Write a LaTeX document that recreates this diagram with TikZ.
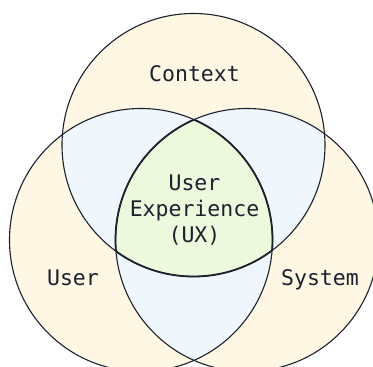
\documentclass[tikz,border=0pt]{standalone}
\usepackage{fontspec}
\newfontfamily\monofont{DejaVu Sans Mono}
\definecolor{cream}{HTML}{FEF7E3}
\definecolor{paleblue}{HTML}{EFF7FD}
\definecolor{palegreen}{HTML}{EEF8DC}
\definecolor{ink}{HTML}{1C2130}
\begin{document}
\begin{tikzpicture}[x=1pt,y=-1pt,
  lbl/.style={font=\monofont\fontsize{21.5}{24}\selectfont, text=ink, anchor=base, inner sep=0pt},
  outline/.style={draw=ink, line width=1.1pt},
  lensline/.style={draw=ink, line width=1.8pt}]
\useasboundingbox (0,0) rectangle (373,367);
\def\circT{(193.5,145) circle[radius=131.5pt]}
\def\circL{(141,240) circle[radius=131.5pt]}
\def\circR{(247,240) circle[radius=131.5pt]}
\begin{scope}
  \clip (0,0) rectangle (373,367);
  \fill[cream] \circT;
  \fill[cream] \circL;
  \fill[cream] \circR;
  \begin{scope}
    \clip \circT;
    \fill[paleblue] \circL;
    \fill[paleblue] \circR;
  \end{scope}
  \begin{scope}
    \clip \circL;
    \fill[paleblue] \circR;
  \end{scope}
  \begin{scope}
    \clip \circT; \clip \circL;
    \fill[palegreen] \circR;
  \end{scope}
  \path[outline] \circT;
  \path[outline] \circL;
  \path[outline] \circR;
  \begin{scope}
    \clip \circT; \clip \circL;
    \path[lensline] \circR;
  \end{scope}
  \begin{scope}
    \clip \circT; \clip \circR;
    \path[lensline] \circL;
  \end{scope}
  \begin{scope}
    \clip \circL; \clip \circR;
    \path[lensline] \circT;
  \end{scope}
\end{scope}
\node[lbl] (context) at (194.5,81) {Context};
\node[lbl] (user) at (73,285) {User};
\node[lbl] (system) at (320,285) {System};
\node[lbl] (ux1) at (194.5,190) {User};
\node[lbl] (ux2) at (194.5,216) {Experience};
\node[lbl] (ux3) at (194.5,242) {(UX)};
\end{tikzpicture}
\end{document}
